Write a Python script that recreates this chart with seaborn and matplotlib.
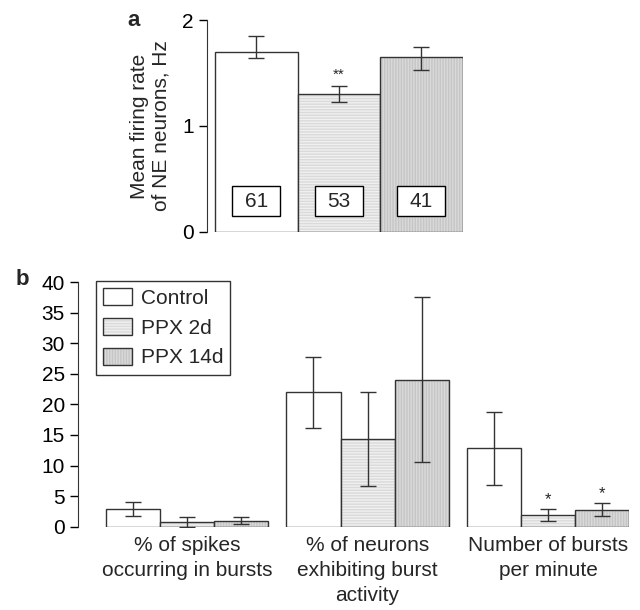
import numpy as np
import pandas as pd
import matplotlib
matplotlib.use("Agg")
import matplotlib.pyplot as plt
import matplotlib.colors as mcolors
from matplotlib.patches import Rectangle, Patch
import seaborn as sns

# DATA - panel a
groups=["Control","PPX 2d","PPX 14d"]
rate_mean=[1.70,1.30,1.65]
rate_err_lo=[0.06,0.07,0.12]
rate_err_hi=[0.15,0.08,0.10]
n_cells=[61,53,41]

# DATA - panel b
measures=["% of spikes\noccurring in bursts","% of neurons\nexhibiting burst\nactivity","Number of bursts\nper minute"]
ctrl_mean=[2.9,22.0,12.8]
ctrl_err=[1.2,5.8,6.0]
ppx2_mean=[0.8,14.3,1.9]
ppx2_err=[0.8,7.7,0.95]
ppx14_mean=[1.0,24.0,2.8]
ppx14_err=[0.5,13.5,1.0]

# STYLE
sns.set_style("ticks")
plt.rcParams["font.family"]=["Liberation Sans","DejaVu Sans"]
plt.rcParams["hatch.linewidth"]=1.0
FS=15
fills={"Control":"#ffffff","PPX 2d":"#f0f0f0","PPX 14d":"#d9d9d9"}
hatches={"Control":None,"PPX 2d":"------","PPX 14d":"||||||"}
hatch_col={"Control":"#ffffff","PPX 2d":"#dadada","PPX 14d":"#c6c6c6"}
EDGE="#333333"

def style_bar(patch,g):
    patch.set_facecolor(fills[g])
    patch.set_hatch(hatches[g])
    patch.set_edgecolor(EDGE)
    patch.set_linewidth(1.0)
    # hatch colour normally follows edgecolor -> override
    patch._hatch_color=mcolors.to_rgba(hatch_col[g])

fig=plt.figure(figsize=(6.4,6.1),dpi=100)

# PANEL A
ax1=fig.add_axes([0.323,0.620,0.400,0.347])
df_a=pd.DataFrame({"group":groups,"rate":rate_mean})
sns.barplot(data=df_a,x="group",y="rate",hue="group",order=groups,hue_order=groups,width=1.0,errorbar=None,legend=False,ax=ax1)
for bar,g in zip(ax1.patches[:3],groups):
    style_bar(bar,g)
xs=np.arange(len(groups))
ax1.errorbar(xs,rate_mean,yerr=[rate_err_lo,rate_err_hi],fmt="none",ecolor=EDGE,elinewidth=1.0,capsize=6,capthick=1.0,zorder=4)
for i,n in enumerate(n_cells):
    ax1.add_patch(Rectangle((i-0.29,0.15),0.58,0.28,facecolor="white",edgecolor="black",linewidth=1.0,zorder=5))
    ax1.text(i,0.285,str(n),ha="center",va="center",fontsize=FS,zorder=6)
ax1.text(1,rate_mean[1]+rate_err_hi[1]+0.04,"**",ha="center",va="bottom",fontsize=11)
ax1.set_xlim(-0.6,2.5)
ax1.set_ylim(0,2)
ax1.set_yticks([0,1,2])
ax1.set_xticks([])
ax1.set_xlabel("")
ax1.set_ylabel("Mean firing rate\nof NE neurons, Hz",fontsize=FS,labelpad=8)
ax1.tick_params(axis="y",labelsize=FS,length=6,width=1,colors="black")
sns.despine(ax=ax1,bottom=True)
ax1.spines["left"].set_color("#333333")
fig.text(0.208,0.966,"a",fontsize=16,fontweight="bold",ha="center",va="center")

# PANEL B
ax2=fig.add_axes([0.122,0.1366,0.861,0.4011])
df_b=pd.DataFrame({
    "measure":measures*3,
    "group":[groups[0]]*3+[groups[1]]*3+[groups[2]]*3,
    "value":ctrl_mean+ppx2_mean+ppx14_mean,
})
sns.barplot(data=df_b,x="measure",y="value",hue="group",order=measures,hue_order=groups,width=0.9,errorbar=None,ax=ax2)
errs=[ctrl_err,ppx2_err,ppx14_err]
means=[ctrl_mean,ppx2_mean,ppx14_mean]
for cont,g,m,e in zip(ax2.containers,groups,means,errs):
    cx=[]
    for bar in cont:
        style_bar(bar,g)
        cx.append(bar.get_x()+bar.get_width()/2)
    ax2.errorbar(cx,m,yerr=e,fmt="none",ecolor=EDGE,elinewidth=1.0,capsize=6,capthick=1.0,zorder=4)
    if g!="Control":
        ax2.text(cx[2],m[2]+e[2]+0.4,"*",ha="center",va="bottom",fontsize=12)
ax2.set_xlim(-0.605,2.45)
ax2.set_ylim(0,40)
ax2.set_yticks(np.arange(0,41,5))
ax2.set_xlabel("")
ax2.set_ylabel("")
ax2.tick_params(axis="y",labelsize=FS,length=6,width=1,colors="black")
ax2.tick_params(axis="x",labelsize=FS,length=0,pad=7)
for lab in ax2.get_xticklabels():
    lab.set_linespacing(1.4)
sns.despine(ax=ax2,bottom=True)
ax2.spines["left"].set_color("#333333")
handles=[Patch(facecolor=fills[g],edgecolor=EDGE,hatch=hatches[g],linewidth=1.0) for g in groups]
leg=ax2.legend(handles,groups,loc="upper left",bbox_to_anchor=(0.032,1.005),fontsize=FS,frameon=True,fancybox=False,edgecolor="black",handlelength=1.4,handleheight=0.85,borderpad=0.35,labelspacing=0.5,handletextpad=0.4,borderaxespad=0)
leg.get_frame().set_linewidth(1.0)
for h,g in zip(leg.legend_handles,groups):
    h._hatch_color=mcolors.to_rgba(hatch_col[g])
fig.text(0.035,0.542,"b",fontsize=16,fontweight="bold",ha="center",va="center")

plt.savefig("out.png",dpi=100)
plt.close()
